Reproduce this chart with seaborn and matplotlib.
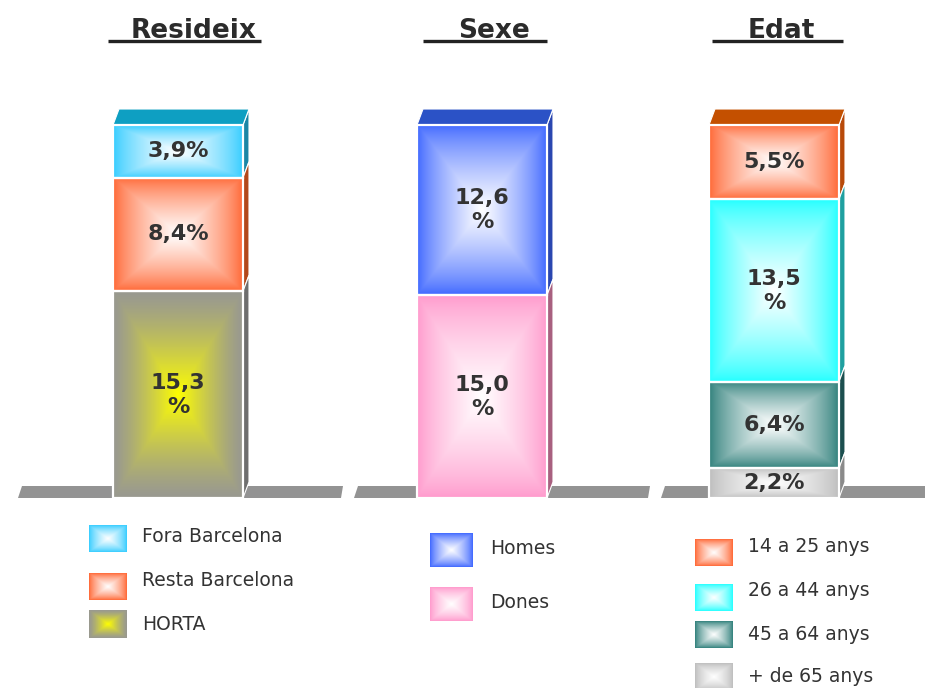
import numpy as np
import pandas as pd
import matplotlib
matplotlib.use("Agg")
import matplotlib.pyplot as plt
from matplotlib.patches import Polygon
from matplotlib.colors import to_rgb
import seaborn as sns

# ---- data (segments listed from bottom to top) ----
resideix_labels = ["HORTA", "Resta Barcelona", "Fora Barcelona"]
resideix_values = [15.3, 8.4, 3.9]

sexe_labels = ["Dones", "Homes"]
sexe_values = [15.0, 12.6]

edat_labels = ["+ de 65 anys", "45 a 64 anys", "26 a 44 anys", "14 a 25 anys"]
edat_values = [2.2, 6.4, 13.5, 5.5]

titles = ["Resideix", "Sexe", "Edat"]

# ---- styling: front edge colour, centre colour, side colour, top colour ----
styles = {
    "Fora Barcelona": ("#33CCFF", "#FFFFFF", "#1A86A6", "#0E9FC2"),
    "Resta Barcelona": ("#FF6633", "#FFFFFF", "#B3481A", "#C0501A"),
    "HORTA": ("#999990", "#FFFF00", "#6E6E6E", "#7A7A7A"),
    "Homes": ("#3D66FF", "#FFFFFF", "#2A46B0", "#2B52C6"),
    "Dones": ("#FF99CC", "#FFFFFF", "#A8607F", "#C07095"),
    "14 a 25 anys": ("#FF6633", "#FFFFFF", "#B84A0A", "#C45000"),
    "26 a 44 anys": ("#22FFFF", "#FFFFFF", "#1FA0A0", "#1FB0B0"),
    "45 a 64 anys": ("#2E7F7A", "#FFFFFF", "#1C4F4F", "#1F5F5F"),
    "+ de 65 anys": ("#BDBDBD", "#FFFFFF", "#8A8A8A", "#9A9A9A"),
}

W, H = 925, 688
KX = 130 / 0.8          # pixels per x unit (bar width 0.8)
KY = 373 / 27.6         # pixels per percentage point
BASE = 498              # pixel row of the zero line
DX, DY = 6, 16          # depth of the 3-D extrusion in pixels
TEXT = "#333333"

panels = [
    dict(title=titles[0], labels=resideix_labels, values=resideix_values, cx=178,
         title_cx=194, line=(108, 261), floor=(18, 341),
         leg_box=(89, 127), leg_text=142, leg_rows=[539, 587, 625], leg_txt_y=[536, 581, 624],
         box_h=27),
    dict(title=titles[1], labels=sexe_labels, values=sexe_values, cx=482,
         title_cx=494, line=(423, 547), floor=(354, 648),
         leg_box=(430, 473), leg_text=490, leg_rows=[550, 604], leg_txt_y=[549, 602],
         box_h=34),
    dict(title=titles[2], labels=edat_labels, values=edat_values, cx=774,
         title_cx=781, line=(712, 843), floor=(661, 940),
         leg_box=(695, 733), leg_text=748, leg_rows=[553, 598, 635, 677], leg_txt_y=[547, 590, 634, 676],
         box_h=27),
]


def box_gradient(edge, centre, nx=120, ny=120, gamma=1.0):
    u = np.abs(np.linspace(-1, 1, nx))[None, :]
    v = np.abs(np.linspace(-1, 1, ny))[:, None]
    s = (1 - np.maximum(u, v)) ** gamma
    e = np.array(to_rgb(edge))
    c = np.array(to_rgb(centre))
    return e[None, None, :] * (1 - s[..., None]) + c[None, None, :] * s[..., None]


def fmt(v):
    txt = f"{v:.1f}".replace(".", ",")
    return txt + ("\n%" if v >= 10 else "%")


def gamma_for(seg):
    return 1.3 if seg == "HORTA" else 0.75


sns.set_style("white")
plt.rcParams["font.family"] = ["DejaVu Sans"]

fig = plt.figure(figsize=(W / 100, H / 100), dpi=100)

for p in panels:
    cx = p["cx"]
    ax = fig.add_axes([0, 0, 1, 1])
    ax.patch.set_visible(False)

    X = lambda px, cx=cx: (px - cx) / KX
    Y = lambda py: (BASE - py) / KY

    labels, values = p["labels"], p["values"]
    cum = np.cumsum(values)
    df = pd.DataFrame({"grup": p["title"], "segment": labels, "acumulat": cum})
    order = labels[::-1]  # tallest cumulative bar first, smaller ones drawn over it
    sns.barplot(data=df, x="grup", y="acumulat", hue="segment", hue_order=order,
                palette={k: styles[k][0] for k in labels}, dodge=False, width=0.8,
                errorbar=None, legend=False, saturation=1, ax=ax)

    ax.set_xlim(X(0), X(W))
    ax.set_ylim(Y(H), Y(0))
    ax.axis("off")

    dx, dy = DX / KX, DY / KY

    # floor strip
    fl, fr = p["floor"]
    floor = Polygon([(X(fl), Y(498)), (X(fl + 4), Y(486)), (X(fr + 2), Y(486)), (X(fr), Y(498))],
                    closed=True, facecolor="#939393", edgecolor="none", zorder=0.5, clip_on=False)
    ax.add_patch(floor)

    bars = [b for b in ax.patches if b is not floor]
    for bar in bars:
        top = bar.get_y() + bar.get_height()
        i = int(np.argmin(np.abs(cum - top)))
        seg = labels[i]
        bottom = cum[i - 1] if i > 0 else 0.0
        edge, centre, side, topc = styles[seg]
        x0 = bar.get_x()
        x1 = x0 + bar.get_width()

        # reshape the bar to its own slice of the stack
        bar.set_y(bottom)
        bar.set_height(top - bottom)
        bar.set_facecolor("none")
        bar.set_edgecolor("white")
        bar.set_linewidth(1.6)
        bar.set_zorder(4)

        img = box_gradient(edge, centre, gamma=gamma_for(seg))
        ax.imshow(img, extent=[x0, x1, bottom, top], aspect="auto", origin="lower",
                  interpolation="bilinear", zorder=3)

        # side face
        side_face = Polygon([(x1, bottom), (x1 + dx, bottom + dy), (x1 + dx, top + dy), (x1, top)],
                            closed=True, facecolor=side, edgecolor="white", linewidth=0.8, zorder=2)
        ax.add_patch(side_face)
        # top face on the uppermost slice
        if i == len(labels) - 1:
            top_face = Polygon([(x0, top), (x0 + dx, top + dy), (x1 + dx, top + dy), (x1, top)],
                               closed=True, facecolor=topc, edgecolor="white", linewidth=0.8, zorder=2)
            ax.add_patch(top_face)

        ax.text((x0 + x1) / 2, (bottom + top) / 2, fmt(values[i]), ha="center", va="center",
                fontsize=16, fontweight="bold", color=TEXT, linespacing=1.25, zorder=6)

    # title with underline
    ax.text(X(p["title_cx"]), Y(38), p["title"], ha="center", va="baseline",
            fontsize=19, fontweight="bold", color="#2B2B2B", zorder=6)
    l0, l1 = p["line"]
    ax.plot([X(l0), X(l1)], [Y(41), Y(41)], color="#222222", linewidth=2.4,
            solid_capstyle="butt", zorder=6, clip_on=False)

    # legend, top slice first
    bx0, bx1 = p["leg_box"]
    bh = p["box_h"]
    for seg, ry, ty in zip(labels[::-1], p["leg_rows"], p["leg_txt_y"]):
        edge, centre, _, _ = styles[seg]
        ax.imshow(box_gradient(edge, centre, gamma=gamma_for(seg)),
                  extent=[X(bx0), X(bx1), Y(ry + bh / 2), Y(ry - bh / 2)],
                  aspect="auto", origin="lower", interpolation="bilinear", zorder=3, clip_on=False)
        ax.text(X(p["leg_text"]), Y(ty), seg, ha="left", va="center", fontsize=13.5,
                color=TEXT, zorder=6)

fig.savefig("out.png", dpi=100)
